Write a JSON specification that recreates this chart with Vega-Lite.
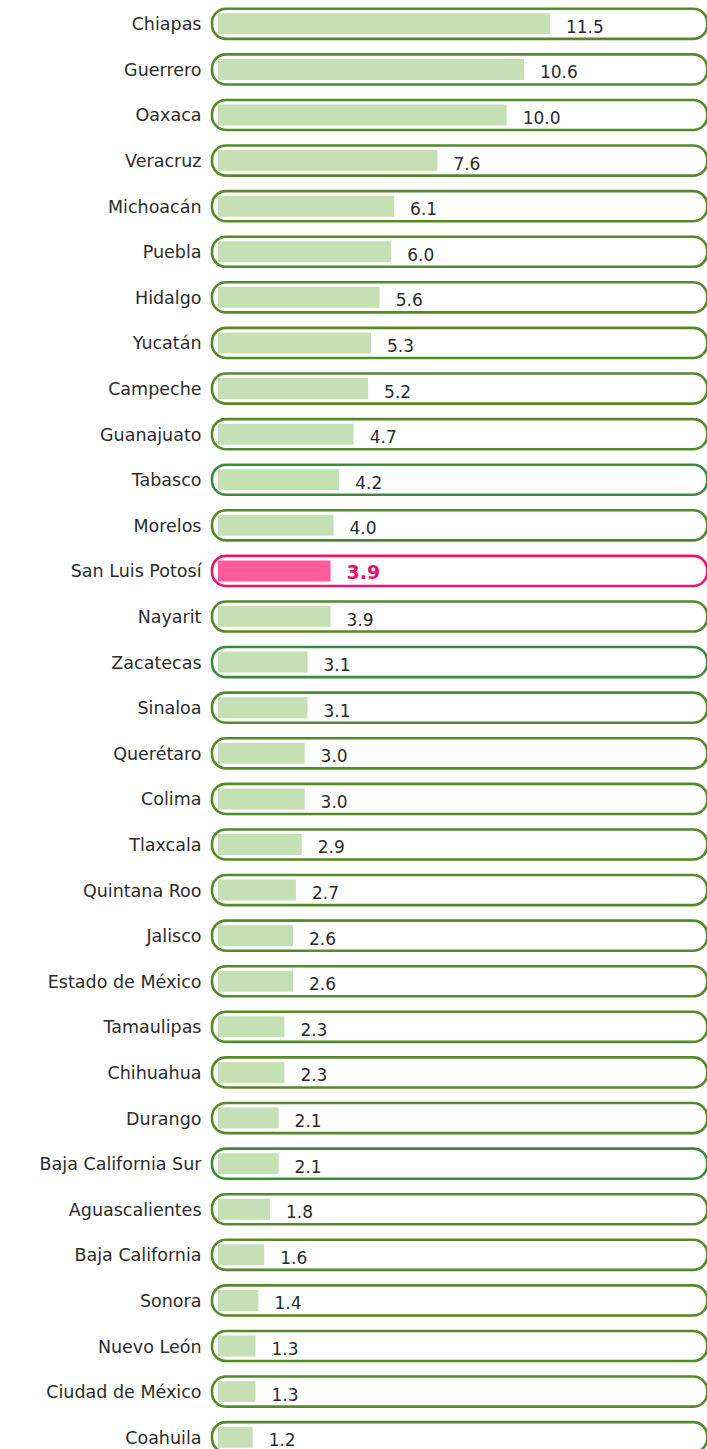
{
  "$schema": "https://vega.github.io/schema/vega-lite/v6.json",
  "width": 495,
  "height": 1459,
  "autosize": "none",
  "padding": {"left": 212, "top": 1, "right": 0, "bottom": 0},
  "background": "white",
  "config": {"view": {"stroke": null}, "font": "DejaVu Sans"},
  "data": {
    "values": [
      {"estado": "Chiapas", "valor": 11.5, "tipo": "a"},
      {"estado": "Guerrero", "valor": 10.6, "tipo": "a"},
      {"estado": "Oaxaca", "valor": 10.0, "tipo": "a"},
      {"estado": "Veracruz", "valor": 7.6, "tipo": "a"},
      {"estado": "Michoacán", "valor": 6.1, "tipo": "a"},
      {"estado": "Puebla", "valor": 6.0, "tipo": "a"},
      {"estado": "Hidalgo", "valor": 5.6, "tipo": "a"},
      {"estado": "Yucatán", "valor": 5.3, "tipo": "a"},
      {"estado": "Campeche", "valor": 5.2, "tipo": "a"},
      {"estado": "Guanajuato", "valor": 4.7, "tipo": "a"},
      {"estado": "Tabasco", "valor": 4.2, "tipo": "b"},
      {"estado": "Morelos", "valor": 4.0, "tipo": "a"},
      {"estado": "San Luis Potosí", "valor": 3.9, "tipo": "c"},
      {"estado": "Nayarit", "valor": 3.9, "tipo": "a"},
      {"estado": "Zacatecas", "valor": 3.1, "tipo": "b"},
      {"estado": "Sinaloa", "valor": 3.1, "tipo": "a"},
      {"estado": "Querétaro", "valor": 3.0, "tipo": "a"},
      {"estado": "Colima", "valor": 3.0, "tipo": "a"},
      {"estado": "Tlaxcala", "valor": 2.9, "tipo": "a"},
      {"estado": "Quintana Roo", "valor": 2.7, "tipo": "a"},
      {"estado": "Jalisco", "valor": 2.6, "tipo": "a"},
      {"estado": "Estado de México", "valor": 2.6, "tipo": "a"},
      {"estado": "Tamaulipas", "valor": 2.3, "tipo": "a"},
      {"estado": "Chihuahua", "valor": 2.3, "tipo": "a"},
      {"estado": "Durango", "valor": 2.1, "tipo": "a"},
      {"estado": "Baja California Sur", "valor": 2.1, "tipo": "b"},
      {"estado": "Aguascalientes", "valor": 1.8, "tipo": "a"},
      {"estado": "Baja California", "valor": 1.6, "tipo": "a"},
      {"estado": "Sonora", "valor": 1.4, "tipo": "a"},
      {"estado": "Nuevo León", "valor": 1.3, "tipo": "a"},
      {"estado": "Ciudad de México", "valor": 1.3, "tipo": "a"},
      {"estado": "Coahuila", "valor": 1.2, "tipo": "a"}
    ]
  },
  "encoding": {
    "y": {
      "field": "estado",
      "type": "nominal",
      "sort": null,
      "scale": {"paddingInner": 0, "paddingOuter": 0},
      "axis": {
        "title": null,
        "domain": false,
        "ticks": false,
        "labelPadding": 11,
        "labelOffset": 1.5,
        "labelFont": "DejaVu Sans",
        "labelFontSize": 17.5,
        "labelColor": "#2b2b2b",
        "labelLimit": 300
      }
    }
  },
  "layer": [
    {
      "mark": {"type": "bar", "height": {"band": 0.66}, "cornerRadius": 14, "fill": "white", "strokeWidth": 2.6},
      "encoding": {
        "x": {"datum": -0.208, "type": "quantitative", "scale": {"domain": [-0.208, 16.94], "nice": false, "zero": false}, "axis": null},
        "x2": {"datum": 16.95},
        "stroke": {
          "field": "tipo",
          "type": "nominal",
          "scale": {"domain": ["a", "b", "c"], "range": ["#548a2a", "#3a8c3c", "#e6176e"]},
          "legend": null
        }
      }
    },
    {
      "mark": {"type": "bar", "height": {"band": 0.46}},
      "encoding": {
        "x": {"field": "valor", "type": "quantitative"},
        "fill": {
          "condition": {"test": "datum.tipo === 'c'", "value": "#ff5b9d"},
          "value": "#c5e0b4"
        }
      }
    },
    {
      "transform": [{"filter": "datum.tipo !== 'c'"}],
      "mark": {"type": "text", "align": "left", "baseline": "middle", "dx": 16, "dy": 4, "fontSize": 17, "font": "DejaVu Sans", "color": "#2b2b2b"},
      "encoding": {
        "x": {"field": "valor", "type": "quantitative"},
        "text": {"field": "valor", "type": "quantitative", "format": ".1f"}
      }
    },
    {
      "transform": [{"filter": "datum.tipo === 'c'"}],
      "mark": {"type": "text", "align": "left", "baseline": "middle", "dx": 16, "dy": 2, "fontSize": 19, "fontWeight": "bold", "font": "DejaVu Sans", "color": "#e5106b"},
      "encoding": {
        "x": {"field": "valor", "type": "quantitative"},
        "text": {"field": "valor", "type": "quantitative", "format": ".1f"}
      }
    }
  ]
}
